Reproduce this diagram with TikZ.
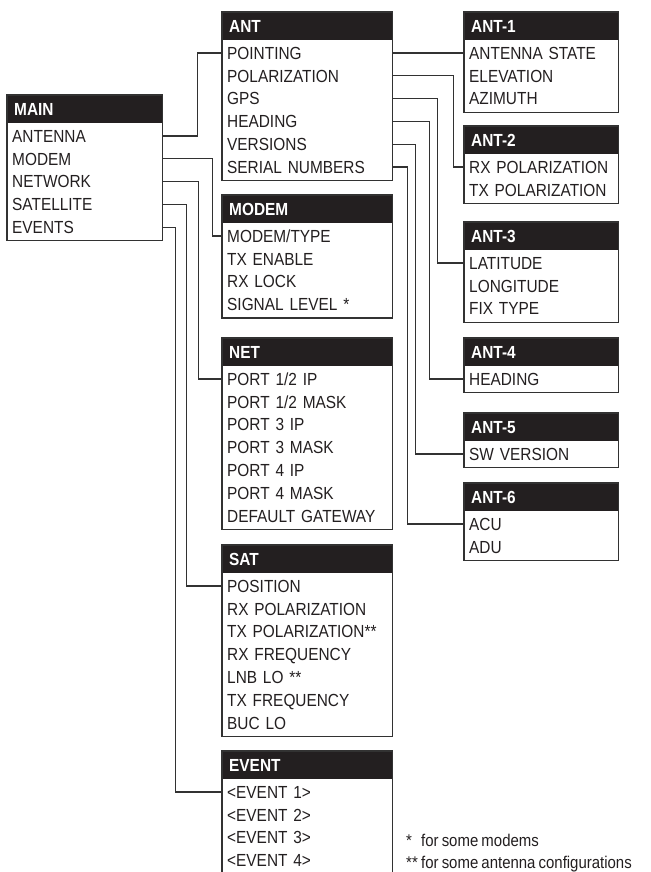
\documentclass[tikz,border=0pt]{standalone}
\usepackage{fontspec}
\setmainfont{Liberation Sans}[FakeStretch=0.88, WordSpace=0.75]
\usetikzlibrary{positioning, calc}
\definecolor{headcolor}{RGB}{35,31,32}
\definecolor{linecolor}{RGB}{50,50,50}

% menu box: name, x, y (top left), width, title, items
\newcommand{\menubox}[6]{%
  \pgfmathsetmacro{\headtw}{#4-14}%
  \pgfmathsetmacro{\rowtw}{#4-10}%
  \node[head, text width=\headtw pt] at (#2,#3) (#1) {#5};
  \foreach \txt [count=\k] in {#6} {%
    \node[row, text width=\rowtw pt] at ($(#1.south west)+(0,{1+(\k-1)*22.8})$) (#1-\k) {\txt};
    \xdef\lastrow{\k}%
  }
  \draw[frame] (#1.north west) rectangle ($(#1-\lastrow.south east)+(0,2)$);
}

\begin{document}
\begin{tikzpicture}[x=1pt, y=-1pt]
    % Define styles
    \tikzstyle{head}=[anchor=north west, fill=headcolor, text=white, font=\fontsize{17.5}{20}\selectfont\bfseries, minimum height=28pt, inner xsep=7pt, inner ysep=0pt, text height=12.5pt, text depth=0pt]
    \tikzstyle{row}=[anchor=north west, text=headcolor, font=\fontsize{17.5}{20}\selectfont, minimum height=22.8pt, inner xsep=5pt, inner ysep=0pt, text height=12.5pt, text depth=0pt]
    \tikzstyle{frame}=[draw=linecolor, line width=1.3pt]
    \tikzstyle{link}=[draw=linecolor, line width=1.3pt]
    \tikzstyle{note}=[anchor=base west, text=headcolor, font=\fontsize{17}{20}\selectfont, inner sep=0pt]

    \fill[white] (0,0) rectangle (650,872);
    \useasboundingbox (0,0) rectangle (650,872);

    % Main menu
    \menubox{main}{7}{95}{155}{MAIN}{ANTENNA, MODEM, NETWORK, SATELLITE, EVENTS}

    % Middle column
    \menubox{ant}{222}{12}{170}{ANT}{POINTING, POLARIZATION, GPS, HEADING, VERSIONS, SERIAL NUMBERS}
    \menubox{modem}{222}{195}{170}{MODEM}{MODEM/TYPE, TX ENABLE, RX LOCK, SIGNAL LEVEL *}
    \menubox{net}{222}{338}{170}{NET}{PORT 1/2 IP, PORT 1/2 MASK, PORT 3 IP, PORT 3 MASK, PORT 4 IP, PORT 4 MASK, DEFAULT GATEWAY}
    \menubox{sat}{222}{545}{170}{SAT}{POSITION, RX POLARIZATION, TX POLARIZATION**, RX FREQUENCY, LNB LO **, TX FREQUENCY, BUC LO}
    \menubox{event}{222}{751}{170}{EVENT}{<EVENT 1>, <EVENT 2>, <EVENT 3>, <EVENT 4>}

    % Right column
    \menubox{ant1}{464}{12}{154}{ANT-1}{ANTENNA STATE, ELEVATION, AZIMUTH}
    \menubox{ant2}{464}{126}{154}{ANT-2}{RX POLARIZATION, TX POLARIZATION}
    \menubox{ant3}{464}{222}{154}{ANT-3}{LATITUDE, LONGITUDE, FIX TYPE}
    \menubox{ant4}{464}{338}{154}{ANT-4}{HEADING}
    \menubox{ant5}{464}{413}{154}{ANT-5}{SW VERSION}
    \menubox{ant6}{464}{483}{154}{ANT-6}{ACU, ADU}

    % Links from main
    \draw[link] (main-1.east) -- ++(35,0) |- (ant-1.west);
    \draw[link] (main-2.east) -- ++(50,0) |- (modem-1.west);
    \draw[link] (main-3.east) -- ++(36,0) |- (net-1.west);
    \draw[link] (main-4.east) -- ++(24,0) |- (sat-1.west);
    \draw[link] (main-5.east) -- ++(13,0) |- (event-1.west);

    % Links from ANT
    \draw[link] (ant-1.east) -- (ant1-1.west);
    \draw[link] (ant-2.east) -- ++(61,0) |- (ant2-1.west);
    \draw[link] (ant-3.east) -- ++(45,0) |- (ant3-1.west);
    \draw[link] (ant-4.east) -- ++(37,0) |- (ant4-1.west);
    \draw[link] (ant-5.east) -- ++(23,0) |- (ant5-1.west);
    \draw[link] (ant-6.east) -- ++(15,0) |- (ant6-1.west);

    % Footnotes
    \node[note] at (406,846) (fn1) {\makebox[15pt][l]{*}for some modems};
    \node[note] at (406,868) (fn2) {\makebox[15pt][l]{**}for some antenna configurations};
\end{tikzpicture}
\end{document}
